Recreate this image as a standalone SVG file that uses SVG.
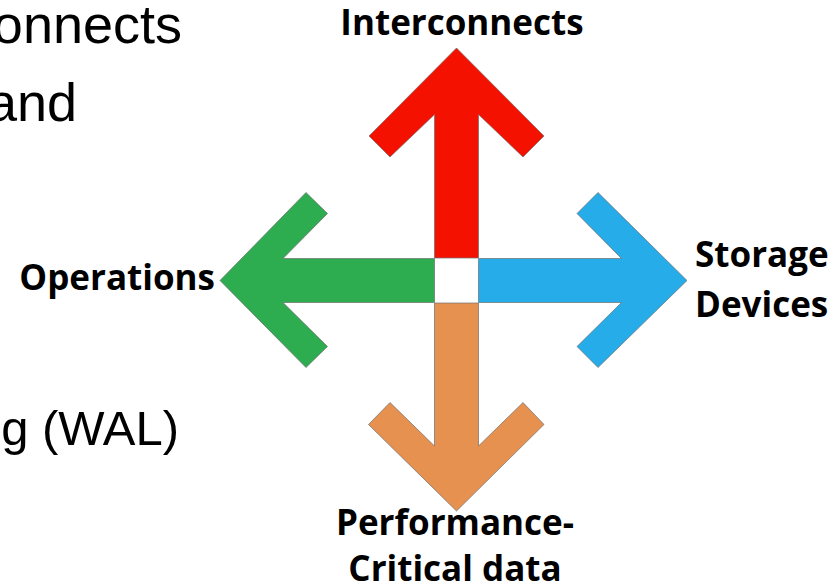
<svg xmlns="http://www.w3.org/2000/svg" width="840" height="588" viewBox="0 0 840 588">
  <style>
    .body { font-family: "Liberation Sans", Arial, sans-serif; fill: #000; }
    .lbl { font-family: "Open Sans", "Liberation Sans", sans-serif; font-weight: 700; font-size: 35px; fill: #000; }
    .arrow { stroke: #6f6f6f; stroke-width: 1; stroke-opacity: 0.7; stroke-linejoin: miter; }
  </style>
  <rect width="840" height="588" fill="#fff"/>

  <g id="slide-text">
    <text class="body" x="182" y="43" font-size="54" text-anchor="end">onnects</text>
    <text class="body" x="77" y="121" font-size="54" text-anchor="end">and</text>
    <text class="body" x="179" y="445" font-size="49" text-anchor="end">g (WAL)</text>
  </g>

  <g id="arrows">
    <g id="interconnects">
      <polygon class="arrow" fill="#F41100" points="434.5,258 434.5,114.5 390,157 369,136 456.5,48 544,136 523,157 478.5,114.5 478.5,258"/>
      <text class="lbl" x="462" y="35" text-anchor="middle">Interconnects</text>
    </g>
    <g id="operations">
      <polygon class="arrow" fill="#2DAD4F" points="434.5,258.5 283,258.5 327.5,213.5 306,192.5 220,280.5 306,367.5 327.5,346.5 283,302.5 434.5,302.5"/>
      <text class="lbl" x="215" y="290" text-anchor="end">Operations</text>
    </g>
    <g id="storage-devices">
      <polygon class="arrow" fill="#25ACE9" points="478.5,258.5 621.5,258.5 577,213.5 598,192.5 687,280.5 598,367.5 577,346.5 621.5,302.5 478.5,302.5"/>
      <text class="lbl" x="695" y="267">Storage</text>
      <text class="lbl" x="695" y="317">Devices</text>
    </g>
    <g id="performance-critical-data">
      <polygon class="arrow" fill="#E6914F" points="434.5,303 434.5,446 390,402.5 368.5,424.5 456.5,511 544,424.5 523,402.5 478.5,446 478.5,303"/>
      <text class="lbl" x="455" y="535" text-anchor="middle">Performance-</text>
      <text class="lbl" x="455" y="581" text-anchor="middle">Critical data</text>
    </g>
  </g>
</svg>
